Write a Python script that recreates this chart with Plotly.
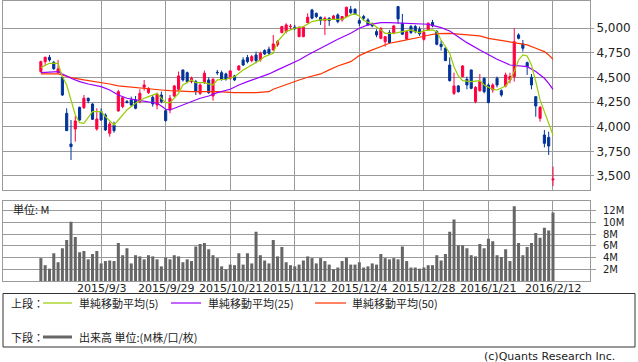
import plotly.graph_objects as go

# ---------------- data ----------------
dates = [
    "2015/8/14", "2015/8/17", "2015/8/18", "2015/8/19", "2015/8/20", "2015/8/21", "2015/8/24", "2015/8/25",
    "2015/8/26", "2015/8/27", "2015/8/28", "2015/8/31", "2015/9/1", "2015/9/2", "2015/9/3", "2015/9/4",
    "2015/9/7", "2015/9/8", "2015/9/9", "2015/9/10", "2015/9/11", "2015/9/14", "2015/9/15", "2015/9/16",
    "2015/9/17", "2015/9/18", "2015/9/24", "2015/9/25", "2015/9/28", "2015/9/29", "2015/9/30", "2015/10/1",
    "2015/10/2", "2015/10/5", "2015/10/6", "2015/10/7", "2015/10/8", "2015/10/9", "2015/10/13", "2015/10/14",
    "2015/10/15", "2015/10/16", "2015/10/19", "2015/10/20", "2015/10/21", "2015/10/22", "2015/10/23", "2015/10/26",
    "2015/10/27", "2015/10/28", "2015/10/29", "2015/10/30", "2015/11/2", "2015/11/4", "2015/11/5", "2015/11/6",
    "2015/11/9", "2015/11/10", "2015/11/11", "2015/11/12", "2015/11/13", "2015/11/16", "2015/11/17", "2015/11/18",
    "2015/11/19", "2015/11/20", "2015/11/24", "2015/11/25", "2015/11/26", "2015/11/27", "2015/11/30", "2015/12/1",
    "2015/12/2", "2015/12/3", "2015/12/4", "2015/12/7", "2015/12/8", "2015/12/9", "2015/12/10", "2015/12/11",
    "2015/12/14", "2015/12/15", "2015/12/16", "2015/12/17", "2015/12/18", "2015/12/21", "2015/12/22", "2015/12/24",
    "2015/12/25", "2015/12/28", "2015/12/29", "2015/12/30", "2016/1/4", "2016/1/5", "2016/1/6", "2016/1/7",
    "2016/1/8", "2016/1/12", "2016/1/13", "2016/1/14", "2016/1/15", "2016/1/18", "2016/1/19", "2016/1/20",
    "2016/1/21", "2016/1/22", "2016/1/25", "2016/1/26", "2016/1/27", "2016/1/28", "2016/1/29", "2016/2/1",
    "2016/2/2", "2016/2/3", "2016/2/4", "2016/2/5", "2016/2/8", "2016/2/9", "2016/2/10", "2016/2/12",
]

open_ = [4560, 4661, 4705, 4654, 4549, 4502, 4136, 3824, 3977, 4197,
         4194, 4289, 4231, 3977, 4153, 4119, 3933, 4017, 4160, 4204,
         4255, 4272, 4272, 4255, 4400, 4346, 4299, 4221, 4322, 4163,
         4170, 4312, 4380, 4577, 4549, 4458, 4458, 4339, 4448, 4475,
         4312, 4553, 4549, 4536, 4492, 4516, 4577, 4678, 4702, 4671,
         4729, 4678, 4773, 4787, 4780, 4831, 4956, 4966, 5017, 5010,
         4915, 4915, 5058, 5186, 5152, 5112, 5078, 5102, 5092, 5136,
         5085, 5119, 5193, 5193, 5078, 5119, 5085, 5044, 4966, 4898,
         4864, 4956, 4949, 5220, 5051, 4888, 5017, 5017, 4990, 4888,
         4983, 5058, 4966, 4837, 4797, 4627, 4339, 4414, 4509, 4482,
         4577, 4255, 4366, 4492, 4424, 4373, 4492, 4366, 4414, 4475,
         4509, 4932, 4841, 4651, 4502, 4305, 4085, 3916, 3892, 3460]

high = [4671, 4712, 4729, 4668, 4678, 4516, 4187, 4068, 4109, 4204,
        4322, 4296, 4238, 4187, 4187, 4136, 4051, 4051, 4373, 4305,
        4272, 4305, 4312, 4380, 4475, 4400, 4322, 4346, 4356, 4177,
        4322, 4424, 4560, 4577, 4560, 4509, 4475, 4441, 4570, 4502,
        4492, 4577, 4570, 4549, 4577, 4526, 4627, 4705, 4729, 4729,
        4763, 4763, 4787, 4814, 4932, 4881, 5024, 5051, 5044, 5034,
        5017, 5017, 5152, 5197, 5159, 5119, 5119, 5112, 5136, 5152,
        5125, 5220, 5227, 5203, 5102, 5136, 5102, 5058, 4990, 5010,
        4922, 4983, 5034, 5227, 5146, 4976, 5034, 5034, 5017, 4990,
        5058, 5085, 4983, 4875, 4814, 4705, 4549, 4424, 4627, 4509,
        4577, 4412, 4536, 4502, 4441, 4441, 4509, 4380, 4549, 4549,
        5000, 4949, 4881, 4661, 4536, 4312, 4211, 3967, 3950, 3594]

low = [4549, 4627, 4661, 4576, 4543, 4312, 3960, 3662, 3848, 4061,
       4180, 4238, 4068, 3960, 4061, 3957, 3899, 3940, 4153, 4187,
       4238, 4204, 4177, 4238, 4366, 4333, 4204, 4177, 4238, 4051,
       4136, 4299, 4366, 4458, 4441, 4441, 4322, 4322, 4434, 4333,
       4265, 4526, 4468, 4468, 4475, 4465, 4570, 4617, 4644, 4654,
       4644, 4661, 4729, 4729, 4773, 4814, 4949, 4949, 4990, 4983,
       4909, 4909, 5051, 5091, 5102, 5034, 4932, 5024, 5085, 5051,
       5068, 5112, 5146, 5136, 5024, 5078, 5024, 5010, 4909, 4888,
       4814, 4841, 4939, 5044, 4932, 4881, 4942, 4949, 4922, 4875,
       4976, 5010, 4827, 4773, 4671, 4458, 4322, 4346, 4502, 4380,
       4380, 4238, 4356, 4339, 4238, 4346, 4400, 4305, 4400, 4441,
       4458, 4888, 4763, 4526, 4380, 4102, 4051, 3790, 3713, 3397]

close = [4661, 4705, 4678, 4590, 4587, 4322, 3960, 3797, 4058, 4068,
         4289, 4262, 4075, 4078, 4068, 3967, 4028, 3960, 4356, 4295,
         4245, 4221, 4187, 4339, 4424, 4390, 4231, 4333, 4255, 4062,
         4289, 4414, 4516, 4475, 4458, 4492, 4356, 4424, 4543, 4346,
         4482, 4549, 4482, 4482, 4566, 4475, 4617, 4627, 4661, 4712,
         4671, 4746, 4739, 4746, 4841, 4865, 5017, 5034, 5020, 4997,
         5010, 5010, 5112, 5102, 5119, 5078, 5102, 5078, 5125, 5068,
         5119, 5213, 5159, 5146, 5051, 5102, 5034, 5024, 4932, 5000,
         4915, 4854, 5024, 5095, 4939, 4966, 4956, 4966, 4943, 4956,
         5051, 5024, 4837, 4814, 4671, 4468, 4414, 4356, 4617, 4424,
         4390, 4400, 4458, 4356, 4245, 4424, 4424, 4322, 4526, 4509,
         4864, 4898, 4797, 4610, 4424, 4211, 4197, 3831, 3804, 3468]

# volume in millions
volume = [3.9, 2.7, 2.1, 4.75, 3.2, 5.6, 7.0, 10.1, 7.5, 4.9,
          5.1, 3.7, 4.6, 5.1, 3.0, 3.4, 3.5, 3.4, 6.5, 4.4,
          5.6, 3.0, 4.4, 4.2, 3.7, 4.4, 4.2, 3.7, 2.5, 4.0,
          3.7, 4.4, 4.2, 3.2, 3.7, 3.4, 5.9, 6.3, 6.5, 5.4,
          4.4, 3.9, 2.5, 2.0, 2.8, 2.7, 4.75, 2.8, 4.75, 3.0,
          8.4, 4.4, 3.5, 3.0, 7.0, 4.2, 5.8, 3.2, 2.7, 2.5,
          2.8, 3.5, 4.2, 3.9, 3.0, 3.9, 3.4, 2.8, 2.0, 2.3,
          3.4, 4.0, 2.8, 2.8, 3.2, 2.3, 2.5, 3.0, 2.8, 4.6,
          3.9, 3.7, 3.9, 3.7, 5.9, 3.4, 2.3, 2.3, 2.1, 2.3,
          2.7, 2.7, 4.4, 3.5, 4.6, 8.4, 10.5, 6.1, 6.1, 5.6,
          4.4, 4.2, 6.3, 5.6, 7.2, 6.8, 4.4, 4.1, 5.4, 3.4,
          12.75, 6.5, 4.4, 5.8, 6.5, 8.2, 7.4, 9.1, 8.6, 11.7]

# moving averages (sample day index -> value)
ma5_idx = [0, 2, 4, 5, 6, 7, 8, 9, 10, 12, 14, 15, 17, 18, 20, 22, 24, 25, 27, 28, 29, 30, 32, 33, 35, 36, 38,
           40, 41, 43, 45, 47, 49, 51, 52, 54, 55, 57, 59, 61, 63, 65, 68, 70, 72, 73, 74, 75, 77, 78, 79, 80,
           82, 84, 86, 87, 88, 89, 91, 92, 93, 95, 96, 97, 98, 100, 102, 103, 104, 105, 106, 108, 109, 110,
           111, 112, 113, 114, 115, 116, 117, 118, 119]
ma5_val = [4600, 4644, 4644, 4509, 4424, 4272, 4119, 4041, 4034, 4153, 4153, 4102, 4017, 4068, 4170, 4238, 4289,
           4305, 4339, 4289, 4245, 4245, 4339, 4424, 4475, 4448, 4448, 4424, 4475, 4482, 4509, 4577, 4627, 4678,
           4712, 4746, 4864, 4966, 5000, 5017, 5068, 5085, 5091, 5091, 5136, 5146, 5125, 5078, 5044, 5017, 4983,
           4949, 4949, 4966, 4983, 4966, 4956, 4976, 4983, 4966, 4881, 4746, 4610, 4516, 4468, 4458, 4468, 4424,
           4400, 4380, 4373, 4414, 4475, 4560, 4678, 4729, 4719, 4627, 4458, 4272, 4153, 4034, 3916]

ma25_idx = [0, 4, 5, 7, 9, 11, 14, 16, 18, 20, 22, 25, 27, 28, 29, 30, 31, 32, 35, 37, 39, 41, 44, 46, 48, 51,
            53, 55, 58, 60, 62, 65, 67, 69, 72, 74, 76, 79, 81, 84, 86, 88, 90, 91, 93, 95, 97, 99, 102, 104,
            106, 109, 111, 113, 115, 117, 118, 119]
ma25_val = [4549, 4560, 4536, 4492, 4458, 4434, 4407, 4373, 4322, 4289, 4272, 4255, 4238, 4211, 4177, 4170,
            4187, 4211, 4255, 4289, 4312, 4346, 4380, 4424, 4458, 4502, 4536, 4577, 4637, 4678, 4729, 4797,
            4848, 4888, 4949, 5000, 5034, 5058, 5058, 5051, 5044, 5044, 5041, 5030, 5007, 4973, 4915, 4854,
            4780, 4729, 4685, 4627, 4617, 4610, 4560, 4492, 4441, 4380]

ma50_idx = [0, 4, 5, 7, 10, 13, 16, 18, 21, 23, 25, 28, 30, 35, 41, 45, 50, 53, 54, 56, 58, 60, 62, 65, 67, 69,
            72, 74, 76, 79, 81, 83, 86, 88, 90, 92, 95, 97, 100, 102, 104, 107, 109, 111, 113, 115, 117, 118, 119]
ma50_val = [4536, 4536, 4526, 4499, 4475, 4458, 4434, 4414, 4400, 4390, 4380, 4373, 4366, 4356, 4356, 4346,
            4346, 4356, 4380, 4414, 4441, 4475, 4502, 4536, 4577, 4617, 4661, 4722, 4763, 4814, 4848, 4864,
            4888, 4909, 4929, 4946, 4949, 4942, 4929, 4922, 4898, 4878, 4858, 4851, 4831, 4797, 4763, 4729, 4685]

tick_labels = ["2015/9/3", "2015/9/29", "2015/10/21", "2015/11/12",
               "2015/12/4", "2015/12/28", "2016/1/21", "2016/2/12"]
price_ticks = [3500, 3750, 4000, 4250, 4500, 4750, 5000]
vol_ticks = [2, 4, 6, 8, 10, 12]

# ---------------- styling ----------------
W, H = 638, 362
ML, MR, MT, MB = 3, 48, 1, 81
PW, PH = W - ML - MR, H - MT - MB
RED, BLUE = "#ff0040", "#003399"
C5, C25, C50 = "#99cc00", "#9900ff", "#ff3300"
GRID = "#9a9a9a"
TXT = "#222222"
JP = "Noto Sans CJK JP"
NUM = "DejaVu Sans"


def px(x):
    return (x - ML) / PW


def py(y):
    return (H - MB - y) / PH


fig = go.Figure()

fig.add_trace(go.Candlestick(
    x=dates, open=open_, high=high, low=low, close=close,
    increasing=dict(line=dict(color=RED, width=1), fillcolor=RED),
    decreasing=dict(line=dict(color=BLUE, width=1), fillcolor=BLUE),
    whiskerwidth=0, xaxis="x", yaxis="y", showlegend=False, hoverinfo="skip"))

for idx, val, col in [(ma50_idx, ma50_val, C50), (ma25_idx, ma25_val, C25), (ma5_idx, ma5_val, C5)]:
    fig.add_trace(go.Scatter(x=[dates[k] for k in idx], y=val, mode="lines",
                             line=dict(color=col, width=1.2), xaxis="x", yaxis="y",
                             showlegend=False, hoverinfo="skip"))

fig.add_trace(go.Bar(x=dates, y=volume, marker=dict(color="#666666", line=dict(width=0)),
                     xaxis="x2", yaxis="y2", showlegend=False, hoverinfo="skip"))

xr = [-8.8, 127.6]
axis_common = dict(showline=True, mirror=True, linecolor=GRID, linewidth=1,
                   showgrid=True, gridcolor=GRID, gridwidth=1, zeroline=False)

fig.update_layout(
    width=W, height=H, margin=dict(l=ML, r=MR, t=MT, b=MB),
    paper_bgcolor="white", plot_bgcolor="white", bargap=0.3,
    font=dict(family=NUM, color=TXT, size=11),
    xaxis=dict(type="category", categoryorder="array", categoryarray=dates, range=xr,
               anchor="y", tickvals=tick_labels, showticklabels=False, ticks="",
               rangeslider=dict(visible=False), **axis_common),
    yaxis=dict(domain=[(H - MB - 190.3) / PH, 1], range=[3354, 5277], side="right",
               tickvals=price_ticks, tickformat=",d", ticks="outside", ticklen=3, tickcolor=GRID,
               tickfont=dict(size=12, family=NUM, color=TXT), anchor="x", **axis_common),
    xaxis2=dict(type="category", categoryorder="array", categoryarray=dates, range=xr,
                matches="x", anchor="y2", tickvals=tick_labels, showticklabels=False, ticks="",
                **axis_common),
    yaxis2=dict(domain=[0, (H - MB - 201.3) / PH], range=[0, 13.6], side="right",
                tickvals=vol_ticks, ticktext=[f"{v}M" for v in vol_ticks],
                ticks="outside", ticklen=5, tickcolor=GRID, ticklabelstandoff=5,
                tickfont=dict(size=10, family=NUM, color=TXT), anchor="x2", **axis_common),
)

# date labels under the volume pane, placed on the category axis
for lab in tick_labels:
    fig.add_annotation(text=lab, xref="x2", yref="paper", x=lab, y=py(288.5),
                       xanchor="center", yanchor="middle", showarrow=False,
                       font=dict(size=11, family=NUM, color=TXT))

shapes = [
    dict(type="rect", xref="paper", yref="paper", x0=px(3), x1=px(635), y0=py(347), y1=py(293.5),
         line=dict(color="#333333", width=1)),
    dict(type="line", xref="paper", yref="paper", x0=px(43), x1=px(72), y0=py(303), y1=py(303),
         line=dict(color=C5, width=1.2)),
    dict(type="line", xref="paper", yref="paper", x0=px(171), x1=px(201), y0=py(303), y1=py(303),
         line=dict(color=C25, width=1.2)),
    dict(type="line", xref="paper", yref="paper", x0=px(315), x1=px(346), y0=py(303), y1=py(303),
         line=dict(color=C50, width=1.2)),
    dict(type="line", xref="paper", yref="paper", x0=px(43), x1=px(72), y0=py(337), y1=py(337),
         line=dict(color="#666666", width=3)),
]
fig.update_layout(shapes=shapes)


def note(text, x, y, anchor="left", size=11, family=JP):
    fig.add_annotation(text=text, xref="paper", yref="paper", x=px(x), y=py(y),
                       xanchor=anchor, yanchor="middle", showarrow=False,
                       font=dict(size=size, family=family, color=TXT))


note("上段：", 9, 303)
note("単純移動平均(5)", 77, 303)
note("単純移動平均(25)", 206, 303)
note("単純移動平均(50)", 350, 303)
note("下段：", 9, 337)
note("出来高 単位:(M株/口/枚)", 77, 337)
note("(c)Quants Research Inc.", 617, 356, anchor="right", size=11, family=NUM)
note("単位: M", 11, 209)

fig.write_html("out.html", config={"displayModeBar": False},
               post_script="document.body.style.margin='0px';document.body.style.padding='0px';")
